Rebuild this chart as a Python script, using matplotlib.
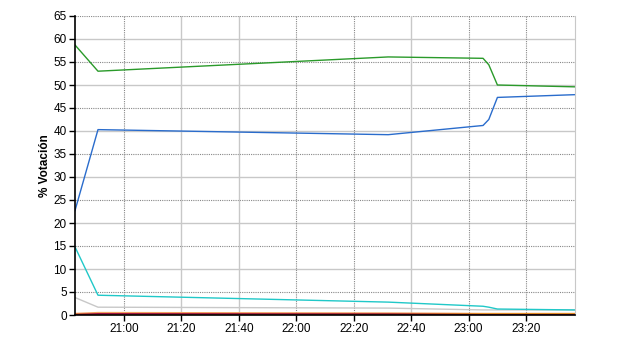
import matplotlib.pyplot as plt
from matplotlib.ticker import FuncFormatter, MultipleLocator

plt.rcParams['font.family'] = ['Liberation Sans', 'DejaVu Sans']

# horas de cada muestra
horas = ["20:43", "20:51", "22:32", "23:05", "23:07", "23:10", "23:37"]

verde = [58.7, 53.0, 56.1, 55.8, 54.4, 50.0, 49.6]
azul = [22.7, 40.3, 39.2, 41.2, 42.5, 47.3, 47.9]
cian = [14.8, 4.3, 2.8, 1.9, 1.7, 1.3, 1.1]
gris = [3.8, 1.7, 1.5, 1.1, 1.1, 1.1, 1.1]
naranja = [0.3, 0.5, 0.4, 0.3, 0.3, 0.3, 0.3]
amarillo = [0.1, 0.2, 0.2, 0.2, 0.2, 0.2, 0.2]
granate = [0.1, 0.25, 0.2, 0.1, 0.1, 0.1, 0.1]


def a_minutos(h):
    hh, mm = h.split(':')
    return int(hh) * 60 + int(mm)


x = [a_minutos(h) for h in horas]

fig = plt.figure(figsize=(6.4, 3.5), dpi=100)
ax = fig.add_axes([75 / 640, 1 - 315 / 350, 500 / 640, 299 / 350])

ax.plot(x, gris, color='#c8c8c8', lw=1.0)
ax.plot(x, naranja, color='#f0a060', lw=1.2)
ax.plot(x, amarillo, color='#ffc800', lw=1.2)
ax.plot(x, granate, color='#a01040', lw=1.2)
ax.plot(x, cian, color='#20c8c8', lw=1.0)
ax.plot(x, azul, color='#2a6ccc', lw=1.0)
ax.plot(x, verde, color='#2a9a2a', lw=1.0)

ax.set_xlim(a_minutos("20:43"), a_minutos("23:37"))
ax.set_ylim(0, 65)

# rejilla: decenas continuas, cincos punteados
for v in range(5, 66, 5):
    if v % 10 == 0:
        ax.axhline(v, color='#c8c8c8', lw=1.0, zorder=0)
    else:
        ax.axhline(v, color='#888888', lw=0.8, ls=(0, (1, 1)), zorder=0)

ticks_x = list(range(a_minutos("21:00"), a_minutos("23:21"), 20))
continuas = [a_minutos("21:20"), a_minutos("21:40"), a_minutos("22:40")]
for t in ticks_x:
    if t in continuas:
        ax.axvline(t, color='#c8c8c8', lw=1.0, zorder=0)
    else:
        ax.axvline(t, color='#888888', lw=0.8, ls=(0, (1, 1)), zorder=0)

ax.set_xticks(ticks_x)
ax.xaxis.set_major_formatter(FuncFormatter(lambda v, p: f"{int(v) // 60}:{int(v) % 60:02d}"))
ax.yaxis.set_major_locator(MultipleLocator(5))

ax.spines['top'].set_visible(False)
ax.spines['right'].set_color('#c8c8c8')
ax.spines['left'].set_linewidth(1.2)
ax.spines['bottom'].set_linewidth(1.2)
ax.tick_params(labelsize=8.5, length=4, width=1, pad=2)

ax.set_ylabel('% Votación', fontsize=8.5, fontweight='bold', labelpad=2)

fig.savefig('out.png', dpi=100)
